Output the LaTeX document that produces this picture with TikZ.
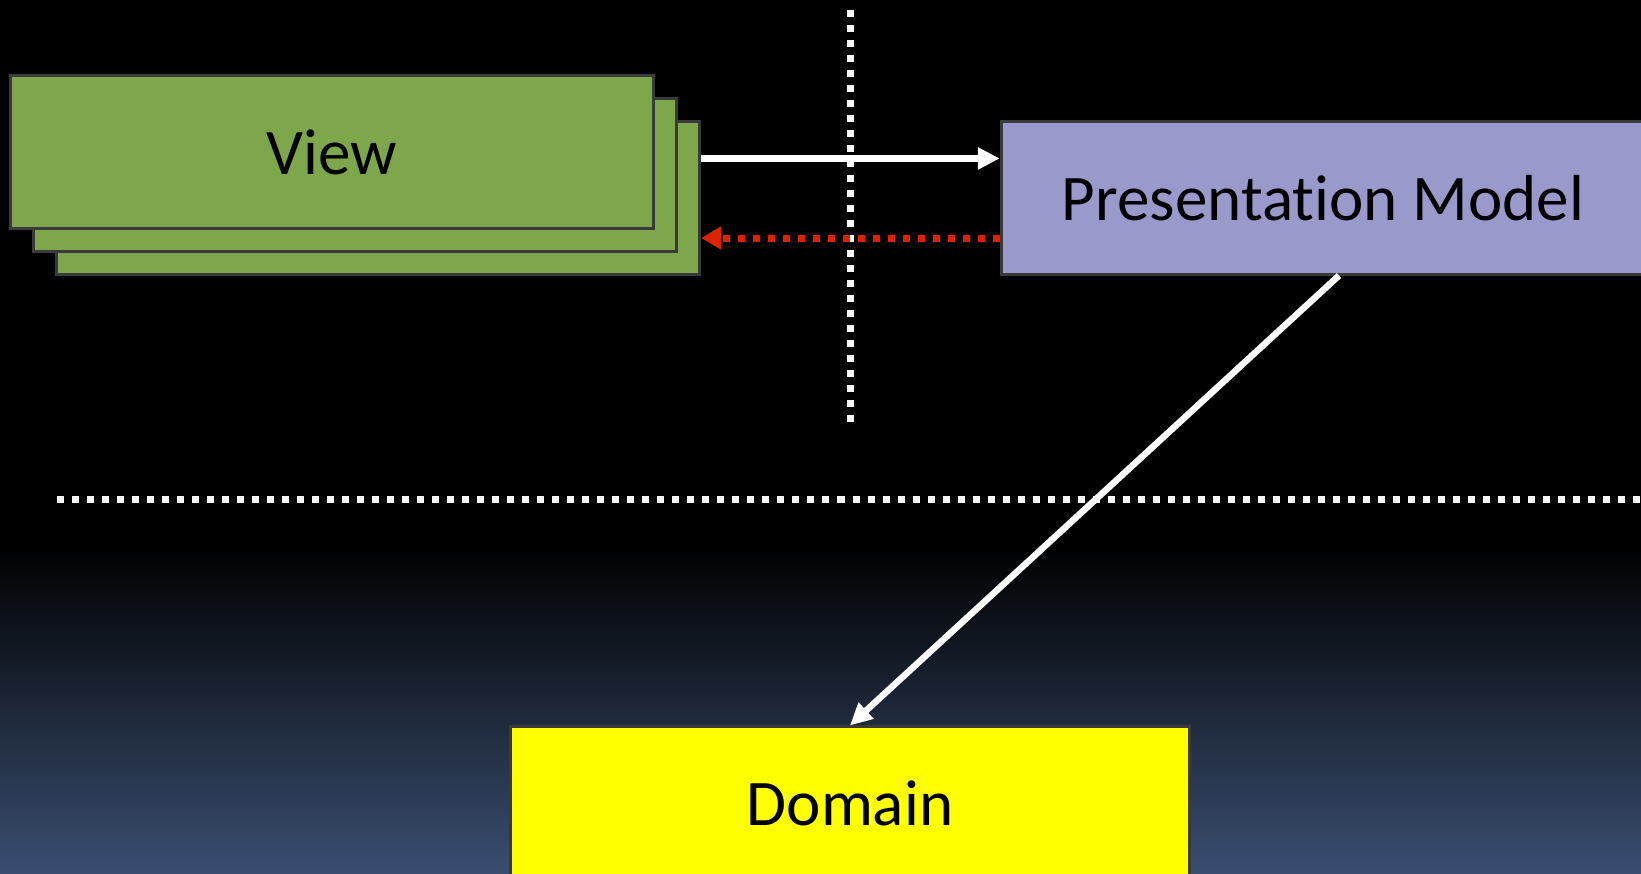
\documentclass[tikz,border=0pt]{standalone}
\usepackage{fontspec}
\setmainfont[Ligatures = NoCommon]{Carlito}
\usetikzlibrary{arrows.meta,positioning}

\definecolor{viewgreen}{HTML}{7EA64A}
\definecolor{pmpurple}{HTML}{9999CC}
\definecolor{domyellow}{HTML}{FFFF00}
\definecolor{boxgray}{HTML}{3A3A3A}
\definecolor{redline}{HTML}{DD2200}
\definecolor{deepblue}{HTML}{3A4E70}

\begin{document}
\begin{tikzpicture}[x=0.01cm, y=-0.01cm,
    box/.style = {draw = boxgray, line width = 0.03cm, inner sep = 0pt,
      minimum width = 6.43cm, minimum height = 1.52cm,
      font = \fontsize{18.5}{22}\selectfont},
    sepline/.style = {white, line width = 0.07cm,
      dash pattern = on 0.07cm off 0.08cm},
    calls/.style = {white, line width = 0.065cm,
      -{Triangle[length = 0.22cm, width = 0.21cm]}},
    notifies/.style = {redline, line width = 0.07cm,
      dash pattern = on 0.07cm off 0.08cm,
      -{Triangle[length = 0.2cm, width = 0.22cm]}}
  ]

      \useasboundingbox (0, 0) rectangle (1641, 874);
      \clip (0, 0) rectangle (1641, 874);
      \fill[black] (0, 0) rectangle (1641, 874);
      \shade[top color = black, bottom color = deepblue] (0, 545) rectangle (1641, 874);

      % layer boundaries
      \draw[sepline] (850, 10) -- (850, 424);
      \draw[sepline] (57, 500) -- (1641, 500);

      \node[box, fill = viewgreen] (viewc) at (378, 198) {};
      \node[box, fill = viewgreen] (viewb) at (355, 175) {};
      \node[box, fill = viewgreen] (view) at (332, 152) {View};
      \node[box, fill = pmpurple] (pm) at (1323, 198) {Presentation Model};
      \node[box, fill = domyellow, minimum width = 6.79cm] (domain) at (850, 803) {Domain};

      \draw[calls] ([yshift = -0.38cm] viewc.north east) -- ([yshift = -0.38cm] pm.north west);
      \draw[notifies] ([yshift = 0.375cm] pm.south west) -- ([yshift = 0.375cm] viewc.south east);
      \draw[calls] ([xshift = 0.16cm] pm.south) -- (domain.north);

    \end{tikzpicture}
\end{document}
